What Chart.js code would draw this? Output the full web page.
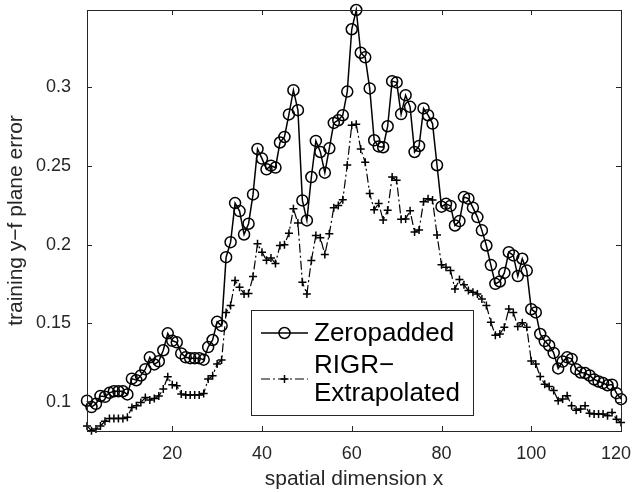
<!DOCTYPE html>
<html>
<head>
<meta charset="utf-8">
<script src="https://cdn.jsdelivr.net/npm/chart.js@4.4.1/dist/chart.umd.min.js"></script>
<style>
  html, body { margin: 0; padding: 0; background: #fff; }
  #wrap { width: 634px; height: 492px; }
</style>
</head>
<body>
<div id="wrap"><canvas id="errChart" width="634" height="492"></canvas></div>
<script>
// nilai, x = 1..120
const zeropadded = [
  0.101, 0.097, 0.099, 0.104, 0.1035, 0.106, 0.107, 0.107, 0.107, 0.105,
  0.115, 0.114, 0.117, 0.121, 0.1285, 0.124, 0.126, 0.133, 0.1437, 0.139,
  0.138, 0.131, 0.1285, 0.128, 0.128, 0.128, 0.127, 0.135, 0.1395, 0.151,
  0.1486, 0.192, 0.2015, 0.2263, 0.2212, 0.2064, 0.2132, 0.2318, 0.2606, 0.2545,
  0.2477, 0.25, 0.2488, 0.2647, 0.2682, 0.2825, 0.2979, 0.2852, 0.228, 0.2153,
  0.2428, 0.2657, 0.2587, 0.2456, 0.261, 0.2771, 0.2788, 0.282, 0.297, 0.3365,
  0.3487, 0.3216, 0.3187, 0.299, 0.2661, 0.2622, 0.2617, 0.275, 0.3036, 0.3028,
  0.2827, 0.2947, 0.2873, 0.2587, 0.2625, 0.2863, 0.282, 0.2767, 0.2503, 0.224,
  0.2258, 0.2245, 0.2121, 0.2149, 0.2301, 0.2291, 0.2234, 0.2174, 0.209, 0.1994,
  0.187, 0.1751, 0.1766, 0.182, 0.1952, 0.1931, 0.18, 0.191, 0.1835, 0.159,
  0.157, 0.1433, 0.1388, 0.136, 0.1313, 0.1215, 0.1258, 0.1285, 0.1275, 0.121,
  0.1189, 0.1185, 0.117, 0.1145, 0.1132, 0.1122, 0.1108, 0.1112, 0.1058, 0.102
];
const rigrExtrapolated = [
  0.085, 0.082, 0.083, 0.085, 0.088, 0.0898, 0.0898, 0.0898, 0.0898, 0.0905,
  0.0967, 0.0978, 0.0999, 0.103, 0.1014, 0.1024, 0.104, 0.1084, 0.1162, 0.1111,
  0.1105, 0.1052, 0.1047, 0.1047, 0.1047, 0.1047, 0.1055, 0.1147, 0.1168, 0.1243,
  0.1268, 0.157, 0.1613, 0.1772, 0.173, 0.1687, 0.169, 0.1797, 0.2005, 0.1952,
  0.19, 0.1915, 0.188, 0.1994, 0.1999, 0.2072, 0.2227, 0.2136, 0.1761, 0.1687,
  0.1899, 0.2058, 0.2043, 0.1937, 0.2069, 0.2234, 0.2248, 0.2284, 0.2504, 0.2757,
  0.2762, 0.2605, 0.2522, 0.2323, 0.222, 0.226, 0.2155, 0.2217, 0.2428, 0.2407,
  0.2161, 0.2162, 0.2214, 0.2079, 0.2092, 0.2272, 0.2291, 0.2283, 0.2061, 0.1872,
  0.1856, 0.1835, 0.1719, 0.1778, 0.1745, 0.1708, 0.1698, 0.1687, 0.1655, 0.1613,
  0.1507, 0.1425, 0.1433, 0.1475, 0.1592, 0.157, 0.148, 0.1505, 0.1475, 0.1262,
  0.1243, 0.1163, 0.1115, 0.11, 0.1074, 0.101, 0.1021, 0.1042, 0.0978, 0.095,
  0.0957, 0.0978, 0.093, 0.0925, 0.0925, 0.0925, 0.0914, 0.0936, 0.0893, 0.0872
];
const xTicks = [20, 40, 60, 80, 100, 120];
const yTicks = [0.1, 0.15, 0.2, 0.25, 0.3];
const yTickLabels = ['0.1', '0.15', '0.2', '0.25', '0.3'];
const legendLines = [['Zeropadded'], ['RIGR\u2212', 'Extrapolated']];

const AXIS_COLOR = '#262626';
const FONT = "'Liberation Sans', Arial, Helvetica, sans-serif";

const toPoints = arr => arr.map((v, i) => ({ x: i + 1, y: v }));

// kotak sumbu ala MATLAB, tick di dalam pada keempat sisi
const axesBox = {
  id: 'axesBox',
  afterDatasetsDraw(chart) {
    const { ctx, chartArea: a, scales: { x, y } } = chart;
    const t = 5;
    ctx.save();
    ctx.strokeStyle = AXIS_COLOR;
    ctx.lineWidth = 1;
    ctx.beginPath();
    xTicks.forEach(v => {
      const px = Math.round(x.getPixelForValue(v)) + 0.5;
      ctx.moveTo(px, a.bottom); ctx.lineTo(px, a.bottom - t);
      ctx.moveTo(px, a.top); ctx.lineTo(px, a.top + t);
    });
    yTicks.forEach(v => {
      const py = Math.round(y.getPixelForValue(v)) + 0.5;
      ctx.moveTo(a.left, py); ctx.lineTo(a.left + t, py);
      ctx.moveTo(a.right, py); ctx.lineTo(a.right - t, py);
    });
    ctx.stroke();
    ctx.strokeRect(Math.round(a.left) + 0.5, Math.round(a.top) + 0.5,
      Math.round(a.right - a.left), Math.round(a.bottom - a.top));
    ctx.restore();
  }
};

// legenda kotak di tengah bawah
const boxLegend = {
  id: 'boxLegend',
  afterDraw(chart) {
    const { ctx } = chart;
    const bx = 251, by = 310, bw = 222, bh = 105;
    ctx.save();
    ctx.fillStyle = '#fff';
    ctx.fillRect(bx, by, bw, bh);
    ctx.strokeStyle = AXIS_COLOR;
    ctx.lineWidth = 1;
    ctx.strokeRect(bx + 0.5, by + 0.5, bw, bh);

    ctx.strokeStyle = '#000';
    // Zeropadded
    ctx.lineWidth = 1.5;
    ctx.beginPath(); ctx.moveTo(261, 333); ctx.lineTo(308, 333); ctx.stroke();
    ctx.beginPath(); ctx.arc(284.5, 333, 5.5, 0, Math.PI * 2); ctx.stroke();
    // RIGR-Extrapolated
    ctx.lineWidth = 1.2;
    ctx.setLineDash([9, 3, 2, 3]);
    ctx.beginPath(); ctx.moveTo(261, 379); ctx.lineTo(308, 379); ctx.stroke();
    ctx.setLineDash([]);
    ctx.lineWidth = 1.5;
    ctx.beginPath();
    ctx.moveTo(280.5, 379); ctx.lineTo(288.5, 379);
    ctx.moveTo(284.5, 375); ctx.lineTo(284.5, 383);
    ctx.stroke();

    ctx.fillStyle = '#000';
    ctx.font = '26px ' + FONT;
    ctx.textBaseline = 'middle';
    ctx.textAlign = 'left';
    ctx.fillText(legendLines[0][0], 314, 334);
    ctx.fillText(legendLines[1][0], 314, 366);
    ctx.fillText(legendLines[1][1], 314, 394);
    ctx.restore();
  }
};

const ctx = document.getElementById('errChart').getContext('2d');
const errChart = new Chart(ctx, {
  type: 'line',
  data: {
    datasets: [
      {
        label: 'Zeropadded',
        data: toPoints(zeropadded),
        borderColor: '#000',
        borderWidth: 1.5,
        pointStyle: 'circle',
        pointRadius: 5.5,
        pointBorderWidth: 1.5,
        pointBorderColor: '#000',
        pointBackgroundColor: 'rgba(0,0,0,0)',
        tension: 0,
        clip: false
      },
      {
        label: 'RIGR\u2212Extrapolated',
        data: toPoints(rigrExtrapolated),
        borderColor: '#000',
        borderWidth: 1.2,
        borderDash: [9, 3, 2, 3],
        pointStyle: 'cross',
        pointRadius: 4,
        pointBorderWidth: 1.5,
        pointBorderColor: '#000',
        tension: 0,
        clip: false
      }
    ]
  },
  options: {
    responsive: false,
    animation: false,
    layout: { padding: { left: 0, right: 13, top: 10, bottom: 0 } },
    scales: {
      x: {
        type: 'linear',
        min: 1,
        max: 120,
        grid: { display: false, drawTicks: false },
        border: { display: false },
        afterBuildTicks: s => { s.ticks = xTicks.map(v => ({ value: v })); },
        afterFit: s => { s.height = 61; s.paddingLeft = 0; s.paddingRight = 0; },
        ticks: {
          color: AXIS_COLOR,
          padding: 12,
          maxRotation: 0,
          font: { family: FONT, size: 18 },
          // label terakhir digeser sedikit ke kiri supaya tidak terpotong
          callback: v => (v === 120 ? '120\u2007' : String(v))
        },
        title: {
          display: true,
          text: 'spatial dimension x',
          color: AXIS_COLOR,
          font: { family: FONT, size: 21 },
          padding: { top: 0, bottom: 0 }
        }
      },
      y: {
        type: 'linear',
        min: 0.0818,
        max: 0.3487,
        grid: { display: false, drawTicks: false },
        border: { display: false },
        afterBuildTicks: s => { s.ticks = yTicks.map(v => ({ value: v })); },
        afterFit: s => { s.width = 87; s.paddingTop = 0; s.paddingBottom = 0; },
        ticks: {
          color: AXIS_COLOR,
          padding: 16,
          font: { family: FONT, size: 18 },
          callback: (v, i) => yTickLabels[i]
        },
        title: {
          display: true,
          text: 'training y\u2212f plane error',
          color: AXIS_COLOR,
          font: { family: FONT, size: 21 },
          padding: { top: 4, bottom: 0 }
        }
      }
    },
    plugins: {
      legend: { display: false },
      tooltip: { enabled: false }
    }
  },
  plugins: [axesBox, boxLegend]
});
</script>
</body>
</html>
